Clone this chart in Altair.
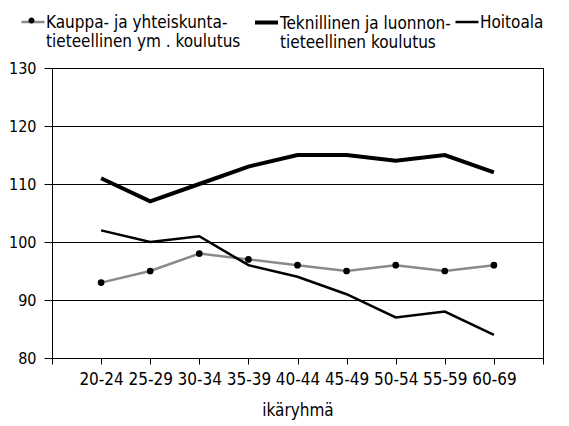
import altair as alt
import pandas as pd

ages = ["20-24", "25-29", "30-34", "35-39", "40-44", "45-49", "50-54", "55-59", "60-69"]
series_names = [
    "Kauppa- ja yhteiskunta-|tieteellinen ym . koulutus",
    "Teknillinen ja luonnon-|tieteellinen koulutus",
    "Hoitoala",
]
kauppa = [93, 95, 98, 97, 96, 95, 96, 95, 96]
teknillinen = [111, 107, 110, 113, 115, 115, 114, 115, 112]
hoitoala = [102, 100, 101, 96, 94, 91, 87, 88, 84]
y_ticks = [80, 90, 100, 110, 120, 130]

rows = []
for name, vals in zip(series_names, [kauppa, teknillinen, hoitoala]):
    for i, (a, v) in enumerate(zip(ages, vals)):
        rows.append({"series": name, "age": a, "pos": i + 1, "value": v})
df = pd.DataFrame(rows)

FONT = "DejaVu Sans Condensed, Liberation Sans Narrow, sans-serif"
label_lookup = "[" + ",".join("'" + a + "'" for a in [""] + ages + [""]) + "][datum.value]"

x = alt.X(
    "pos:Q",
    scale=alt.Scale(domain=[0, len(ages) + 1], nice=False, zero=False),
    axis=alt.Axis(
        values=list(range(0, len(ages) + 2)),
        labelExpr=label_lookup,
        title="ikäryhmä",
        grid=False,
        tickSize=6,
        labelPadding=7,
        labelFontSize=17,
        labelOverlap=False,
        titleFontSize=17,
        titleFontWeight="normal",
        titlePadding=15,
        labelAngle=0,
    ),
)
y = alt.Y(
    "value:Q",
    scale=alt.Scale(domain=[80, 130], nice=False, zero=False),
    axis=alt.Axis(
        values=y_ticks,
        title=None,
        grid=True,
        gridColor="black",
        gridWidth=1,
        tickSize=8,
        labelPadding=8,
        labelFontSize=16,
    ),
)

LINE_SYM = "M-1,-0.52H1"
LEG_Y = -53


def legend(lx, offset, sw, sym=LINE_SYM, size=529, expr="split(datum.label, '|')"):
    return alt.Legend(
        title=None,
        orient="none",
        legendX=lx,
        legendY=LEG_Y,
        padding=0,
        labelFont=FONT,
        labelFontSize=17,
        labelColor="black",
        labelLimit=400,
        labelOffset=offset,
        labelBaseline="alphabetic",
        labelExpr=expr,
        symbolSize=size,
        symbolType=sym,
        symbolStrokeWidth=sw,
    )


def color_enc(i, col, leg):
    return alt.Color(
        "series:N",
        scale=alt.Scale(domain=[series_names[i]], range=[col]),
        legend=leg,
    )


base = alt.Chart(df)
l_kauppa = (
    base.transform_filter(alt.datum.series == series_names[0])
    .mark_line(strokeWidth=2.5)
    .encode(x=x, y=y, color=color_enc(0, "#8a8a8a", legend(-32, 0, 2.5)))
)
l_tekn = (
    base.transform_filter(alt.datum.series == series_names[1])
    .mark_line(strokeWidth=4)
    .encode(x=x, y=y, color=color_enc(1, "black", legend(201, 0, 4)))
)
l_hoito = (
    base.transform_filter(alt.datum.series == series_names[2])
    .mark_line(strokeWidth=2.5)
    .encode(x=x, y=y, color=color_enc(2, "black", legend(402, 0, 2.5)))
)
p_kauppa = (
    base.transform_filter(alt.datum.series == series_names[0])
    .mark_circle(size=45, opacity=1)
    .encode(
        x=x,
        y=y,
        color=color_enc(
            0,
            "black",
            legend(
                -32,
                0,
                0,
                sym="M-0.26,-0.52A0.26,0.26 0 1,0 0.26,-0.52A0.26,0.26 0 1,0 -0.26,-0.52Z",
                expr="''",
            ),
        ),
    )
)

chart = (
    alt.layer(l_kauppa, l_tekn, l_hoito, p_kauppa)
    .resolve_scale(color="independent")
    .resolve_legend(color="independent")
    .properties(
        width=491,
        height=290,
        autosize=alt.AutoSizeParams(type="none"),
        padding={"left": 44, "top": 60, "right": 18, "bottom": 62},
    )
    .configure(font=FONT)
    .configure_view(stroke="black", strokeWidth=1)
    .configure_axis(
        domainColor="black",
        tickColor="black",
        labelColor="black",
        titleColor="black",
        labelFont=FONT,
        titleFont=FONT,
    )
)

chart.save("out.html", embed_options={"renderer": "svg", "actions": False})
